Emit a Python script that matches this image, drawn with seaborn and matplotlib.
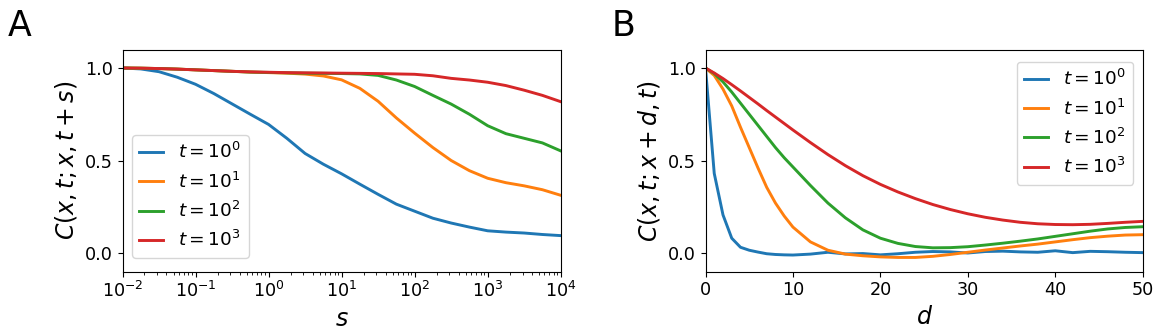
import numpy as np
import pandas as pd
import matplotlib
matplotlib.use("Agg")
import matplotlib.pyplot as plt
import seaborn as sns

# ---------------- data ----------------
labels = [r"$t=10^0$", r"$t=10^1$", r"$t=10^2$", r"$t=10^3$"]
colors = ["#1f77b4", "#ff7f0e", "#2ca02c", "#d62728"]

# Panel A: log10(s) grid
log_s = [-2, -1.75, -1.5, -1.25, -1, -0.75, -0.5, -0.25, 0, 0.25, 0.5, 0.75, 1,
         1.25, 1.5, 1.75, 2, 2.25, 2.5, 2.75, 3, 3.25, 3.5, 3.75, 4]
cA_t0 = [1.0, 0.995, 0.98, 0.95, 0.912, 0.862, 0.806, 0.75, 0.695, 0.62, 0.538, 0.48, 0.428,
         0.372, 0.317, 0.264, 0.226, 0.188, 0.162, 0.14, 0.12, 0.113, 0.108, 0.1, 0.094]
cA_t1 = [1.0, 0.999, 0.997, 0.994, 0.99, 0.986, 0.982, 0.978, 0.975, 0.972, 0.967, 0.957, 0.936,
         0.89, 0.82, 0.73, 0.648, 0.57, 0.5, 0.445, 0.404, 0.38, 0.363, 0.342, 0.312]
cA_t2 = [1.0, 0.999, 0.997, 0.994, 0.99, 0.986, 0.982, 0.978, 0.976, 0.974, 0.972, 0.971, 0.97,
         0.968, 0.96, 0.935, 0.9, 0.852, 0.805, 0.75, 0.688, 0.645, 0.62, 0.595, 0.552]
cA_t3 = [1.0, 0.999, 0.997, 0.994, 0.99, 0.986, 0.982, 0.979, 0.977, 0.975, 0.974, 0.973, 0.972,
         0.971, 0.97, 0.968, 0.966, 0.958, 0.944, 0.935, 0.923, 0.905, 0.88, 0.852, 0.818]

# Panel B: distance d
d_vals = [0, 1, 2, 3, 4, 5, 6, 7, 8, 9, 10, 12, 14, 16, 18, 20, 22, 24, 26, 28, 30,
          32, 34, 36, 38, 40, 42, 44, 46, 48, 50]
cB_t0 = [1.0, 0.43, 0.206, 0.08, 0.031, 0.015, 0.005, -0.004, -0.008, -0.01, -0.011,
         -0.006, 0.004, -0.005, -0.003, -0.01, -0.004, 0.004, 0.008, 0.006, 0.0,
         0.008, 0.01, 0.006, 0.004, 0.012, 0.002, 0.009, 0.007, 0.004, 0.002]
cB_t1 = [1.0, 0.96, 0.886, 0.795, 0.68, 0.57, 0.46, 0.355, 0.27, 0.2, 0.14,
         0.06, 0.015, -0.006, -0.015, -0.021, -0.024, -0.024, -0.018, -0.008, 0.004,
         0.016, 0.027, 0.038, 0.048, 0.06, 0.072, 0.083, 0.091, 0.097, 0.099]
cB_t2 = [1.0, 0.97, 0.925, 0.87, 0.81, 0.75, 0.69, 0.63, 0.57, 0.515, 0.465,
         0.365, 0.27, 0.19, 0.125, 0.08, 0.052, 0.035, 0.028, 0.029, 0.034,
         0.043, 0.053, 0.064, 0.076, 0.09, 0.104, 0.118, 0.13, 0.138, 0.142]
cB_t3 = [1.0, 0.973, 0.943, 0.91, 0.876, 0.841, 0.806, 0.77, 0.735, 0.7, 0.665,
         0.597, 0.532, 0.472, 0.418, 0.371, 0.33, 0.294, 0.262, 0.235, 0.212,
         0.193, 0.178, 0.166, 0.158, 0.154, 0.153, 0.155, 0.16, 0.166, 0.171]

seriesA = [cA_t0, cA_t1, cA_t2, cA_t3]
seriesB = [cB_t0, cB_t1, cB_t2, cB_t3]

# ---------------- figure ----------------
W, H = 1163, 336
fig = plt.figure(figsize=(W / 100, H / 100), dpi=100)
plt.rcParams['font.family'] = ['DejaVu Sans']

def px_axes(l, r, t, b):
    return fig.add_axes([l / W, 1 - b / H, (r - l) / W, (b - t) / H])

axA = px_axes(122.5, 560.7, 49.5, 271.5)
axB = px_axes(705.5, 1142.7, 49.5, 271.5)

s_vals = 10.0 ** np.array(log_s)
for lab, col, ys in zip(labels, colors, seriesA):
    df = pd.DataFrame({"s": s_vals, "C": ys})
    sns.lineplot(data=df, x="s", y="C", color=col, lw=2.1, label=lab, ax=axA)
for lab, col, ys in zip(labels, colors, seriesB):
    df = pd.DataFrame({"d": d_vals, "C": ys})
    sns.lineplot(data=df, x="d", y="C", color=col, lw=2.1, label=lab, ax=axB)

axA.set_xscale("log")
axA.set_xlim(1e-2, 1e4)
axA.set_xticks([1e-2, 1e-1, 1e0, 1e1, 1e2, 1e3, 1e4])
axB.set_xlim(0, 50)
axB.set_xticks([0, 10, 20, 30, 40, 50])
for ax in (axA, axB):
    ax.set_ylim(-0.1, 1.1)
    ax.set_yticks([0.0, 0.5, 1.0])
    ax.tick_params(labelsize=12.7)

axA.set_xlabel(r"$s$", fontsize=17)
axA.set_ylabel(r"$C(x,t;x,t+s)$", fontsize=17)
axB.set_xlabel(r"$d$", fontsize=17)
axB.set_ylabel(r"$C(x,t;x+d,t)$", fontsize=17)

axA.legend(loc="lower left", bbox_to_anchor=(0.0217, 0.062), borderaxespad=0,
           fontsize=13.3, handlelength=1.3)
axB.legend(loc="upper right", bbox_to_anchor=(0.9785, 0.945), borderaxespad=0,
           fontsize=13.3, handlelength=1.3)

fig.text(8 / W, 1 - 36 / H, "A", fontsize=25, va="baseline", ha="left")
fig.text(612 / W, 1 - 36 / H, "B", fontsize=25, va="baseline", ha="left")

fig.savefig("out.png", dpi=100)
